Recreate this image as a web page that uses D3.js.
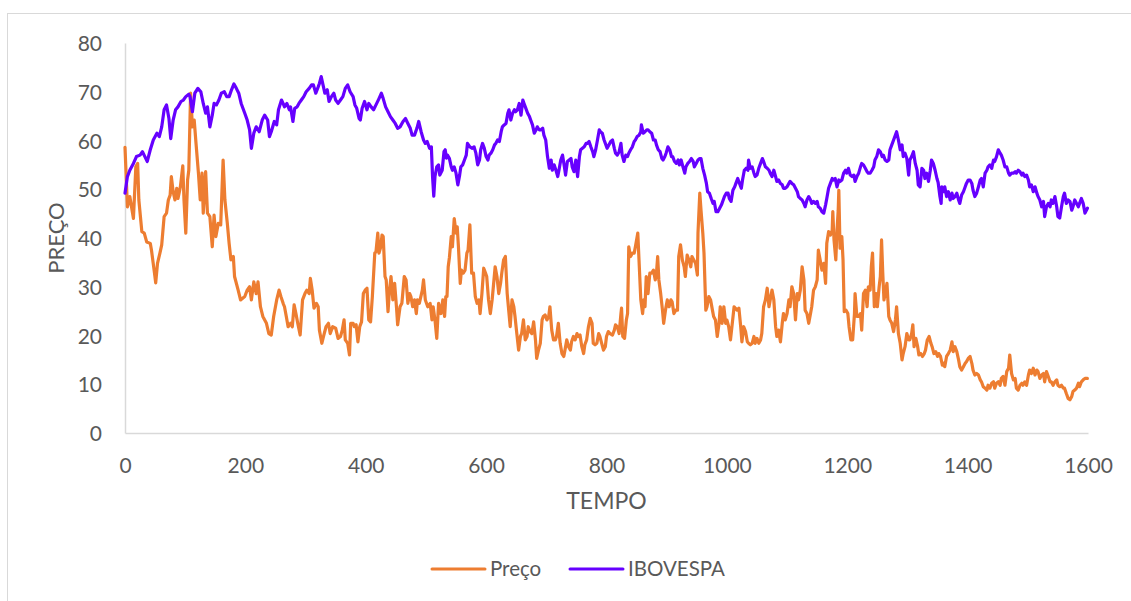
<!DOCTYPE html>
<html>
<head>
<meta charset="utf-8">
<script src="https://cdn.jsdelivr.net/npm/d3@7/dist/d3.min.js"></script>
<style>
  html, body { margin: 0; padding: 0; background: #fff; }
  svg { display: block; }
  text { font-family: Lato, "Open Sans", sans-serif; fill: #595959; }
</style>
</head>
<body>
<svg id="chart" width="1131" height="601"></svg>
<script>
// ---- DATA ----
const seriesNames = ["Preço", "IBOVESPA"];
const xTicks = [0, 200, 400, 600, 800, 1000, 1200, 1400, 1600];
const yTicks = [0, 10, 20, 30, 40, 50, 60, 70, 80];

const tempoPreco = [0,4,8,14,18,21,23,28,32,36,42,44,49,51,54,58,61,65,69,72,75,77,80,83,86,88,92,96,98,101,104,106,109,112,115,118,122,125,128,130,134,137,141,145,148,151,155,159,163,166,170,173,176,180,182,188,192,199,203,207,210,214,218,221,225,229,235,239,243,247,252,256,259,
263,265,268,271,275,278,281,284,287,291,295,299,302,306,308,311,314,318,321,323,327,331,334,338,341,345,350,354,358,361,364,366,370,373,375,379,381,384,387,390,393,396,399,402,405,408,411,415,417,420,422,425,427,429,432,434,437,439,442,445,448,451,453,457,460,464,467,470,473,475,478,481,484,486,489,494,496,499,503,507,510,512,515,518,521,525,528,531,
533,535,537,539,542,544,547,550,552,554,557,559,562,565,568,570,573,576,579,582,585,588,590,593,596,599,601,604,607,610,612,615,618,621,624,626,629,632,635,637,640,643,646,648,651,654,657,659,662,665,668,670,673,676,679,682,684,687,690,693,695,698,701,704,706,709,712,715,717,720,723,726,729,731,734,737,740,742,745,748,751,753,756,759,762,764,767,770,773,776,778,781,784,787,789,792,795,798,800,803,806,
810,813,815,818,821,824,825,827,830,833,835,837,840,843,846,848,852,854,857,860,862,864,866,869,872,875,878,881,883,885,887,890,893,895,898,901,904,907,909,912,915,918,920,923,926,929,931,934,937,940,942,945,948,951,952,955,957,960,962,965,967,970,973,976,978,981,984,987,989,992,995,998,1000,1003,1006,1009,1012,1014,1017,1020,1023,1025,1028,1031,1034,1036,1039,1042,1045,1047,1050,1053,1056,1058,1061,1064,1067,1070,1072,1075,1078,1081,1083,
1086,1089,1092,1094,1097,1100,1103,1105,1108,1111,1114,1117,1119,1122,1125,1128,1130,1133,1136,1139,1141,1144,1147,1150,1152,1155,1158,1161,1164,1166,1169,1172,1175,1176,1178,1181,1183,1185,1186,1188,1191,1193,1195,1198,1201,1203,1206,1209,1212,1213,1216,1219,1222,1224,1227,1230,1233,1235,1238,1240,1242,1245,1248,1250,1253,1255,1257,1259,1261,1264,1266,1269,1271,1274,1277,1280,1282,1285,1288,1291,1293,1296,1299,1302,1304,1307,1309,1311,1314,1317,1319,1322,1325,1328,1330,1333,1336,1339,1341,1344,1347,1350,
1352,1355,1358,1360,1362,1365,1368,1371,1374,1376,1379,1382,1385,1387,1390,1393,1396,1398,1401,1404,1407,1409,1412,1415,1418,1421,1423,1426,1429,1432,1434,1437,1440,1443,1445,1448,1451,1454,1456,1459,1462,1465,1468,1470,1473,1476,1479,1481,1484,1487,1490,1492,1495,1498,1501,1503,1506,1509,1512,1515,1517,1520,1523,1526,1528,1531,1534,1537,1539,1542,1545,1548,1550,1553,1556,1559,1561,1564,1567,1570,1573,1575,1578,1581,1584,1586,1589,1592,1595,1599];

const preco = [58.6,46.4,48.5,44.0,54.6,55.3,47.8,41.3,41.0,39.2,38.9,37.5,32.8,30.8,34.8,36.9,38.6,44.4,45.1,47.8,48.8,52.6,49.5,47.8,50.2,48.1,50.5,54.8,47.8,41.0,51.9,53.9,69.7,62.8,64.2,59.4,53.3,47.8,53.3,45.1,53.6,45.1,44.4,38.2,44.7,40.3,43.0,42.7,56.0,47.8,43.0,38.9,35.5,36.2,32.1,29.3,27.3,28.0,29.3,30.0,27.3,31.0,28.6,31.0,25.9,23.9,22.5,20.4,20.1,23.9,27.3,29.3,28.0,
26.5,25.9,23.9,21.8,22.5,21.8,26.3,24.5,22.5,20.1,27.3,28.6,29.3,28.6,31.7,29.3,25.6,26.6,25.9,21.1,18.4,20.4,21.8,22.5,20.4,21.8,21.5,19.4,19.8,21.1,23.2,19.1,18.4,16.0,22.5,22.5,21.8,22.2,18.7,21.8,22.8,28.6,29.3,29.7,23.2,22.8,28.0,36.9,37.2,41.0,36.9,38.2,40.6,40.3,32.1,31.4,24.9,28.6,32.1,27.3,30.7,25.9,22.2,25.9,26.6,32.1,31.4,26.6,28.6,28.0,25.9,27.3,24.5,27.3,26.6,29.3,31.4,27.3,25.9,26.6,23.2,25.9,23.2,19.4,26.6,24.5,27.3,23.9,
28.0,28.0,34.1,36.0,40.3,38.2,44.0,41.0,42.3,38.2,30.7,33.4,32.8,33.4,36.9,37.5,42.7,32.8,32.8,28.0,26.6,27.3,24.5,28.6,33.8,32.8,32.1,27.3,24.5,27.3,30.0,34.1,32.1,28.6,30.7,32.8,35.5,36.2,28.6,25.9,21.8,27.3,25.9,23.9,20.4,17.0,19.8,20.4,23.2,19.1,19.8,21.8,20.8,20.4,22.8,19.1,15.3,17.0,18.4,23.2,23.9,24.2,23.2,23.9,25.9,21.1,19.1,19.1,19.8,22.5,18.4,16.3,15.7,17.0,19.1,17.7,17.0,18.7,19.8,19.1,20.4,19.8,20.1,17.7,16.3,18.1,19.1,21.8,23.5,22.5,18.4,18.1,18.4,20.4,19.8,18.4,17.0,17.7,19.8,20.8,20.4,
20.1,21.1,22.2,21.8,20.4,24.5,25.6,19.8,19.4,23.2,24.5,38.2,36.2,36.9,36.9,38.2,41.0,35.5,27.3,24.5,27.3,25.9,32.1,28.6,32.8,32.8,33.4,31.4,32.8,36.2,31.4,28.6,25.2,22.5,25.2,27.3,25.9,27.3,26.9,24.5,25.2,25.2,36.2,38.6,35.5,34.1,32.1,36.5,35.5,34.1,36.2,35.5,34.8,32.4,41.0,49.2,45.7,41.0,36.9,25.2,25.9,28.0,27.3,25.2,23.9,23.2,19.8,22.5,25.9,22.5,25.9,22.5,23.2,21.8,19.1,22.5,25.9,25.6,25.2,25.6,21.8,18.7,21.8,20.8,18.7,18.4,18.1,18.4,19.8,18.4,19.4,18.4,19.1,20.4,25.9,27.3,29.7,25.9,27.3,29.3,27.3,21.8,19.8,
21.1,18.7,22.5,24.5,23.2,24.5,27.3,25.9,30.0,28.6,23.2,28.6,27.3,29.3,34.1,31.4,25.2,24.5,22.5,24.5,25.9,29.3,30.0,31.4,37.5,35.5,33.4,34.8,30.7,38.9,41.3,40.6,41.6,45.4,39.6,35.5,41.6,45.7,49.8,37.9,40.3,35.5,24.9,25.2,24.5,21.8,19.1,19.1,24.5,28.6,23.9,23.9,24.5,21.1,28.6,29.3,25.9,30.0,29.3,34.1,36.9,25.9,28.6,25.9,30.0,32.1,39.6,32.8,27.3,29.3,30.7,23.9,23.2,22.5,20.8,23.2,25.9,20.4,18.4,15.0,16.3,17.7,20.4,19.1,19.1,20.4,22.2,17.7,19.4,17.7,16.0,16.3,15.7,16.3,17.0,19.1,19.8,18.4,17.7,16.3,16.7,15.7,
16.3,15.7,13.9,14.3,13.6,15.7,16.3,17.0,18.7,16.7,17.7,16.7,15.0,13.6,12.9,13.6,14.3,14.6,15.3,15.7,14.3,12.9,11.9,12.2,11.9,10.9,10.5,9.5,9.2,8.8,9.8,9.2,10.2,10.5,9.2,10.2,10.5,9.8,11.2,11.6,9.8,12.6,13.3,16.0,12.2,10.9,11.2,9.2,8.8,9.8,10.2,9.8,10.5,9.8,11.9,12.9,12.2,13.3,11.9,12.9,12.6,11.2,11.9,12.2,10.5,12.6,11.6,10.5,10.5,9.8,10.5,10.9,9.8,9.5,9.8,9.2,9.2,8.1,7.1,6.8,7.5,8.5,8.8,9.2,10.2,9.5,10.5,10.9,11.2,11.2];

const tempoIbov = [0,4,8,14,19,25,29,33,37,42,47,53,57,61,65,69,73,76,80,84,88,93,97,101,106,108,112,116,121,126,130,134,137,141,145,148,152,156,160,165,169,173,177,181,185,189,193,199,203,207,210,214,218,223,228,232,237,240,243,248,252,255,260,
263,265,269,273,275,279,282,286,289,293,297,301,306,310,313,317,321,323,326,329,332,336,339,343,347,350,354,358,362,366,370,374,379,382,385,389,391,394,398,402,405,409,413,417,422,426,429,433,437,441,445,449,453,457,462,466,470,474,477,481,485,488,492,496,499,502,506,509,511,513,515,518,521,523,527,530,
532,534,536,539,542,544,547,550,553,556,558,561,564,567,569,573,577,580,583,586,589,591,594,597,600,603,605,608,611,614,616,619,622,625,627,630,633,636,638,641,644,647,649,652,655,658,661,663,666,669,672,674,677,680,683,685,688,691,694,696,699,702,705,708,710,713,716,719,721,724,727,730,732,735,738,741,743,746,749,752,755,757,760,763,766,768,771,774,777,779,782,785,788,790,793,796,799,801,804,807,
810,813,815,818,821,824,826,829,832,835,837,840,843,846,848,851,854,857,858,861,864,867,869,872,875,878,881,883,886,889,892,894,897,899,902,905,908,910,913,916,919,921,924,927,930,932,935,938,941,944,946,949,952,955,957,960,963,966,968,971,974,977,979,982,985,988,991,993,996,999,1002,1004,1007,1010,1013,1015,1018,1021,1024,1026,1029,1032,1035,1036,1039,1042,1045,1047,1050,1053,1056,1059,1061,1064,1067,1070,1072,1075,1078,1081,1083,
1086,1089,1092,1094,1097,1100,1103,1105,1108,1111,1114,1117,1119,1122,1125,1128,1130,1133,1136,1139,1141,1144,1147,1150,1152,1155,1158,1161,1164,1166,1169,1172,1175,1177,1180,1183,1186,1188,1191,1194,1197,1199,1202,1205,1208,1211,1213,1216,1219,1222,1224,1227,1230,1233,1235,1238,1241,1244,1246,1249,1252,1255,1258,1260,1263,1266,1269,1271,1274,1277,1280,1282,1285,1288,1291,1293,1296,1299,1302,1304,1307,1310,1313,1316,1318,1321,1324,1327,1329,1332,1335,1338,1340,1343,1346,1349,
1351,1354,1356,1357,1360,1362,1365,1368,1371,1374,1376,1379,1382,1385,1387,1390,1393,1396,1398,1401,1404,1407,1409,1412,1415,1418,1421,1423,1426,1429,1432,1434,1437,1440,1443,1445,1448,1451,1454,1456,1459,1462,1465,1468,1470,1473,1476,1479,1481,1484,1487,1490,1492,1495,1498,1501,1503,1506,1509,1512,1515,1517,1520,1523,1526,1528,1531,1534,1537,1539,1542,1545,1548,1550,1553,1556,1559,1561,1564,1567,1570,1573,1575,1578,1581,1584,1586,1589,1592,1595,1599];

const ibovespa = [49.2,52.6,53.9,55.3,56.7,57.0,57.7,56.7,55.7,58.1,60.1,61.5,60.8,62.8,66.3,67.3,64.5,60.4,64.2,66.3,66.9,68.0,68.3,69.0,69.5,69.0,65.9,69.7,70.7,70.0,67.6,65.6,66.9,62.8,65.2,67.6,67.3,68.3,69.7,70.0,69.0,69.0,70.4,71.6,70.7,69.7,67.6,65.6,64.2,62.2,58.4,61.5,62.8,61.8,64.2,65.2,64.2,60.8,61.8,63.9,63.2,66.3,68.3,
67.5,66.9,67.6,66.3,66.9,63.9,66.6,66.9,67.6,68.3,69.0,70.0,70.7,71.4,71.4,69.7,71.0,71.7,73.1,71.4,69.7,70.4,68.0,69.0,69.7,68.3,67.6,68.3,69.0,70.7,71.4,70.0,69.0,67.3,66.6,64.5,64.2,66.6,68.0,66.3,67.6,66.9,66.3,67.3,68.6,69.7,68.6,66.9,65.9,64.9,64.2,63.5,62.5,62.8,63.9,64.5,63.5,62.5,61.1,61.1,62.5,63.9,61.8,60.1,59.4,59.8,58.4,58.7,52.6,48.6,52.6,54.6,55.0,52.9,53.9,57.7,
58.1,56.4,57.0,56.3,54.6,53.9,54.6,53.3,50.9,52.9,54.6,55.0,56.0,57.0,59.4,58.7,58.4,58.7,57.4,55.0,56.0,58.1,59.4,58.4,56.7,56.0,57.0,57.4,58.1,59.1,59.4,60.1,59.8,61.8,62.8,63.2,63.5,65.6,66.3,64.2,65.6,66.3,65.9,66.3,67.6,65.2,68.3,67.6,66.6,65.6,64.9,64.2,63.2,61.5,62.2,62.8,62.2,62.2,62.5,61.1,60.1,56.7,54.3,56.0,53.9,55.0,53.9,52.6,53.9,56.0,57.0,54.6,52.9,55.7,56.0,56.3,54.6,53.6,56.0,52.6,56.7,58.1,58.4,58.7,59.4,59.4,59.8,58.7,57.7,56.7,58.1,60.1,62.2,61.8,61.5,60.1,59.1,58.4,59.1,59.8,
60.1,58.4,57.4,57.0,57.7,59.4,57.0,55.7,57.0,56.7,57.4,58.1,58.7,59.8,60.1,60.8,61.1,61.8,63.2,61.5,61.8,62.2,62.2,61.8,61.5,60.1,60.1,59.1,58.1,57.7,56.3,56.0,56.7,57.4,58.7,58.1,56.7,56.7,55.7,55.3,56.0,55.0,56.0,54.6,53.3,54.6,55.3,55.7,56.3,55.7,54.6,55.3,56.0,56.3,56.3,54.3,52.9,51.2,49.5,49.2,48.1,47.1,47.5,45.4,45.4,46.1,46.8,47.5,48.5,49.2,49.2,48.1,47.5,49.8,50.5,51.2,52.2,51.2,50.2,51.9,53.9,54.3,53.9,56.0,54.3,54.6,53.3,52.6,52.9,54.3,55.3,56.3,55.7,54.6,54.3,53.9,53.3,52.6,53.9,52.6,51.6,
51.9,51.2,50.9,50.2,50.2,50.5,51.2,51.6,51.2,50.9,50.2,49.5,48.5,48.1,47.8,47.1,46.4,47.8,48.5,47.8,47.1,47.5,47.1,47.5,46.4,46.1,45.4,45.1,46.8,48.1,50.2,51.2,52.2,51.9,52.2,50.5,51.9,51.6,51.9,53.3,53.9,53.3,54.3,52.9,52.6,52.9,51.6,52.6,53.3,54.6,55.3,55.0,54.3,53.6,53.3,53.3,53.9,54.6,56.0,56.7,58.1,57.7,56.7,57.0,56.0,55.7,56.0,58.1,59.1,60.1,61.1,61.8,60.1,58.1,59.1,56.7,57.4,56.3,52.9,56.0,56.7,57.7,55.3,53.9,50.9,50.5,54.3,53.9,52.2,53.3,51.6,53.9,56.0,55.3,53.9,52.2,
51.4,48.5,47.1,50.5,49.5,50.5,48.5,49.5,47.8,49.2,48.1,48.5,49.2,47.8,47.1,48.8,49.5,50.5,51.2,51.9,51.9,51.2,49.8,48.5,49.2,50.5,51.9,52.2,50.5,53.3,53.9,54.6,55.0,54.3,56.0,55.7,56.7,58.1,57.4,57.0,56.0,54.6,54.6,53.3,52.9,53.3,53.3,53.6,53.3,53.9,53.6,52.9,53.3,52.6,52.9,51.9,50.5,50.9,49.5,50.5,49.2,48.5,47.8,46.4,47.5,44.4,46.4,47.1,46.4,47.8,47.1,48.5,46.4,44.4,44.1,46.4,48.5,49.2,47.1,47.8,47.5,45.7,46.4,47.8,47.1,46.4,47.1,48.1,47.1,45.1,46.1];

const colors = ["#ED7D31", "#6600FF"];

// ---- CHART ----
const svg = d3.select("#chart");
const plot = { left: 125, right: 1088, top: 43, bottom: 433 };

// outer chart border
svg.append("rect")
  .attr("x", 7.5).attr("y", 13.5)
  .attr("width", 1140).attr("height", 620)
  .attr("fill", "#fff").attr("stroke", "#D9D9D9").attr("stroke-width", 1);

const x = d3.scaleLinear().domain([0, 1600]).range([plot.left, plot.right]);
const y = d3.scaleLinear().domain([0, 80]).range([plot.bottom, plot.top]);

// x axis
const xAxis = svg.append("g")
  .attr("transform", `translate(0,${plot.bottom})`)
  .call(d3.axisBottom(x).tickValues(xTicks).tickSize(0).tickPadding(0).tickFormat(d3.format("d")));
xAxis.select(".domain").attr("stroke", "#D9D9D9").attr("stroke-width", 1.5);
xAxis.selectAll("text")
  .attr("dy", null).attr("y", 40)
  .style("font-size", "21px").style("fill", "#595959")
  .attr("font-family", "Lato, 'Open Sans', sans-serif");

// y axis
const yAxis = svg.append("g")
  .attr("transform", `translate(${plot.left},0)`)
  .call(d3.axisLeft(y).tickValues(yTicks).tickSize(0).tickPadding(0).tickFormat(d3.format("d")));
yAxis.select(".domain").attr("stroke", "#D9D9D9").attr("stroke-width", 1.5);
yAxis.selectAll("text")
  .attr("x", -23).attr("dy", "0.36em")
  .style("font-size", "21px").style("fill", "#595959")
  .attr("font-family", "Lato, 'Open Sans', sans-serif");

// axis titles
svg.append("text")
  .attr("x", (plot.left + plot.right) / 2).attr("y", 509)
  .attr("text-anchor", "middle")
  .style("font-size", "23px")
  .text("TEMPO");

svg.append("text")
  .attr("transform", `translate(64,${(plot.top + plot.bottom) / 2}) rotate(-90)`)
  .attr("text-anchor", "middle")
  .style("font-size", "22px")
  .text("PREÇO");

// lines
const line = d3.line()
  .x(d => x(d[0]))
  .y(d => y(d[1]));

const precoData = tempoPreco.map((t, i) => [t, preco[i]]);
const ibovData = tempoIbov.map((t, i) => [t, ibovespa[i]]);

svg.append("path")
  .datum(precoData)
  .attr("d", line)
  .attr("fill", "none")
  .attr("stroke", colors[0])
  .attr("stroke-width", 3.2)
  .attr("stroke-linejoin", "round")
  .attr("stroke-linecap", "round");

svg.append("path")
  .datum(ibovData)
  .attr("d", line)
  .attr("fill", "none")
  .attr("stroke", colors[1])
  .attr("stroke-width", 3.2)
  .attr("stroke-linejoin", "round")
  .attr("stroke-linecap", "round");

// legend
const legendItems = [
  { name: seriesNames[0], color: colors[0], x0: 432 },
  { name: seriesNames[1], color: colors[1], x0: 570 }
];
const lg = svg.append("g");
legendItems.forEach(it => {
  lg.append("line")
    .attr("x1", it.x0).attr("x2", it.x0 + 53)
    .attr("y1", 569).attr("y2", 569)
    .attr("stroke", it.color).attr("stroke-width", 3)
    .attr("stroke-linecap", "round");
  lg.append("text")
    .attr("x", it.x0 + 58).attr("y", 569).attr("dy", "0.36em")
    .style("font-size", "20.5px")
    .text(it.name);
});
</script>
</body>
</html>
